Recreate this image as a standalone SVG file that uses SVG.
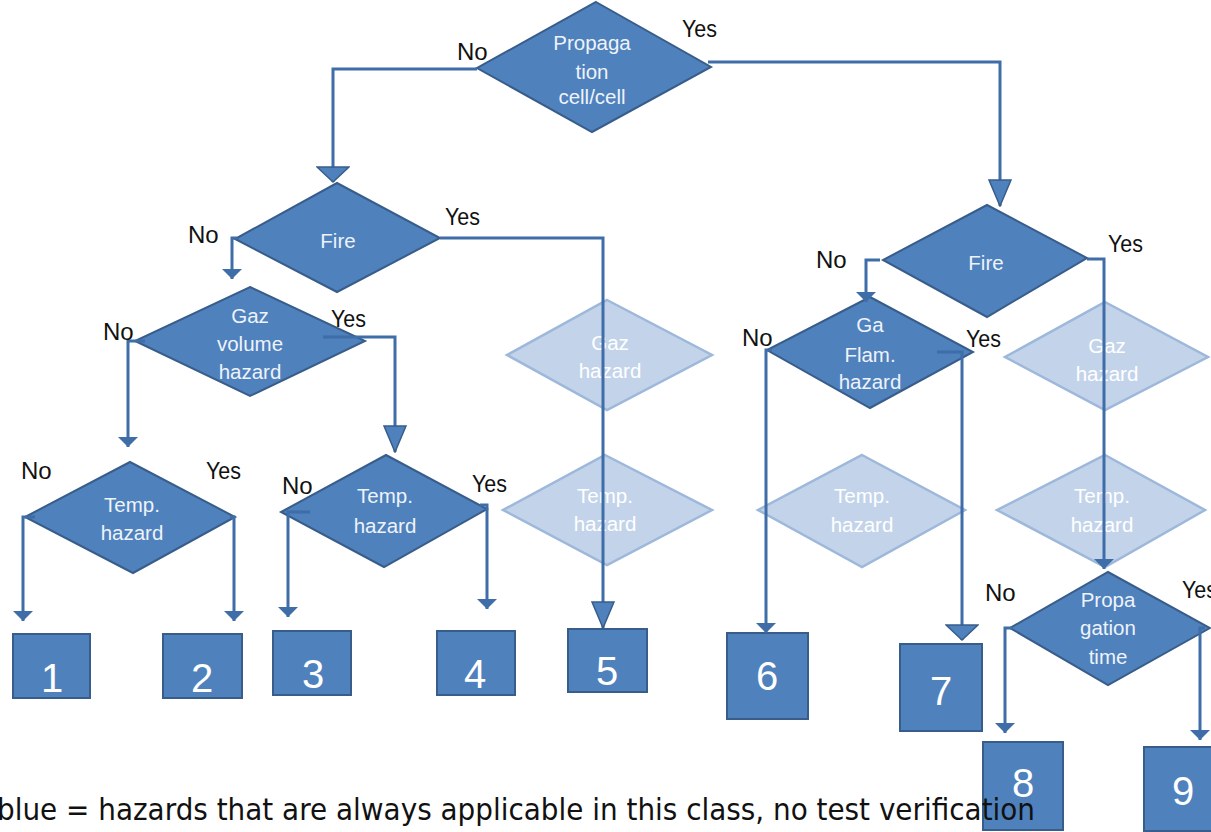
<svg xmlns="http://www.w3.org/2000/svg" width="1211" height="832" viewBox="0 0 1211 832">
<defs>
<style>
.d{fill:#4F81BD;stroke:#385D8A;stroke-width:2}
.f{fill:#C3D4EA;stroke:#9DB8DA;stroke-width:2.5}
.b{fill:#4F81BD;stroke:#385D8A;stroke-width:2}
.dt{font-family:"Liberation Sans",Arial,sans-serif;font-size:20.5px;fill:#EEF3FA;text-anchor:middle}
.ft{font-family:"Liberation Sans",Arial,sans-serif;font-size:20.5px;fill:#FFFFFF;text-anchor:middle}
.n{font-family:"Liberation Sans",Arial,sans-serif;font-size:40px;fill:#FFFFFF;text-anchor:middle}
.l{font-family:"Liberation Sans",Arial,sans-serif;font-size:24px;fill:#111111}
.c{fill:none;stroke:#3F6DA8;stroke-width:3}
</style>
<marker id="big" viewBox="0 0 28 26" refX="27" refY="13" markerWidth="28" markerHeight="26" markerUnits="userSpaceOnUse" orient="auto"><path d="M1,2 L27,13 L1,24 Z" fill="#4F81BD" stroke="#385D8A" stroke-width="1.5"/></marker>
<marker id="wide" viewBox="0 0 17 34" refX="16" refY="17" markerWidth="17" markerHeight="34" markerUnits="userSpaceOnUse" orient="auto"><path d="M1,1 L16,17 L1,33 Z" fill="#4F81BD" stroke="#385D8A" stroke-width="1.5"/></marker>
<marker id="small" viewBox="0 0 10 22" refX="10" refY="11" markerWidth="10" markerHeight="22" markerUnits="userSpaceOnUse" orient="auto"><path d="M0,1 L10,11 L0,21 Z" fill="#3F6DA8"/></marker>
</defs>
<rect width="1211" height="832" fill="#FFFFFF"/>

<g id="f1"><polygon class="f" points="607,300 712,355 607,410 507,355"/><text class="ft" x="610" y="350">Gaz</text><text class="ft" x="610" y="378">hazard</text></g>
<g id="f2"><polygon class="f" points="605,455 712,510 607,565 503,510"/><text class="ft" x="605" y="503">Temp.</text><text class="ft" x="605" y="531">hazard</text></g>
<g id="f3"><polygon class="f" points="862,455 965,510 862,567 758,510"/><text class="ft" x="862" y="503">Temp.</text><text class="ft" x="862" y="532">hazard</text></g>
<g id="f4"><polygon class="f" points="1105,302 1208,357 1105,410 1005,357"/><text class="ft" x="1107" y="353">Gaz</text><text class="ft" x="1107" y="381">hazard</text></g>
<g id="f5"><polygon class="f" points="1105,455 1205,510 1105,567 997,510"/><text class="ft" x="1102" y="503">Temp.</text><text class="ft" x="1102" y="532">hazard</text></g>

<g id="d0"><polygon class="d" points="596,2 711,67 592,132 477,68"/><text class="dt" x="592" y="50">Propaga</text><text class="dt" x="592" y="79">tion</text><text class="dt" x="592" y="104">cell/cell</text></g>
<g id="d1"><polygon class="d" points="337,183 440,238 337,292 235,239"/><text class="dt" x="338" y="248">Fire</text></g>
<g id="d2"><polygon class="d" points="250,287 365,341 250,396 135,341"/><text class="dt" x="250" y="323">Gaz</text><text class="dt" x="250" y="351">volume</text><text class="dt" x="250" y="379">hazard</text></g>
<g id="d3"><polygon class="d" points="130,462 235,517 133,573 25,517"/><text class="dt" x="132" y="512">Temp.</text><text class="dt" x="132" y="540">hazard</text></g>
<g id="d4"><polygon class="d" points="386,455 487,509 384,567 281,512"/><text class="dt" x="385" y="503">Temp.</text><text class="dt" x="385" y="533">hazard</text></g>
<g id="d5"><polygon class="d" points="987,205 1087,258 987,317 883,260"/><text class="dt" x="986" y="270">Fire</text></g>
<g id="d6"><polygon class="d" points="870,297 973,352 870,408 767,350"/><text class="dt" x="870" y="332">Ga</text><text class="dt" x="870" y="362">Flam.</text><text class="dt" x="870" y="389">hazard</text></g>
<g id="d7"><polygon class="d" points="1108,572 1210,628 1108,685 1010,628"/><text class="dt" x="1108" y="607">Propa</text><text class="dt" x="1108" y="635">gation</text><text class="dt" x="1108" y="664">time</text></g>

<g id="b1"><rect class="b" x="13" y="634" width="77" height="64"/><text class="n" x="52" y="692">1</text></g>
<g id="b2"><rect class="b" x="163" y="634" width="79" height="64"/><text class="n" x="202" y="692">2</text></g>
<g id="b3"><rect class="b" x="273" y="631" width="78" height="64"/><text class="n" x="313" y="688">3</text></g>
<g id="b4"><rect class="b" x="437" y="631" width="78" height="64"/><text class="n" x="475" y="688">4</text></g>
<g id="b5"><rect class="b" x="568" y="629" width="79" height="63"/><text class="n" x="607" y="685">5</text></g>
<g id="b6"><rect class="b" x="727" y="633" width="81" height="86"/><text class="n" x="767" y="690">6</text></g>
<g id="b7"><rect class="b" x="900" y="644" width="82" height="87"/><text class="n" x="941" y="705">7</text></g>
<g id="b8"><rect class="b" x="983" y="742" width="80" height="88"/><text class="n" x="1023" y="797">8</text></g>
<g id="b9"><rect class="b" x="1144" y="747" width="80" height="84"/><text class="n" x="1183" y="805">9</text></g>

<g id="connectors">
<path class="c" d="M477,69 H333 V182" marker-end="url(#wide)"/>
<path class="c" d="M708,62 H1000 V206" marker-end="url(#big)"/>
<path class="c" d="M237,238 H232 V279" marker-end="url(#small)"/>
<path class="c" d="M440,238 H603 V628" marker-end="url(#big)"/>
<path class="c" d="M145,341 H128 V447" marker-end="url(#small)"/>
<path class="c" d="M323,337 H395 V452" marker-end="url(#big)"/>
<path class="c" d="M35,517 H23 V621" marker-end="url(#small)"/>
<path class="c" d="M230,517 H234 V621" marker-end="url(#small)"/>
<path class="c" d="M310,512 H288 V617" marker-end="url(#small)"/>
<path class="c" d="M480,505 H487 V609" marker-end="url(#small)"/>
<path class="c" d="M880,260 H866 V302" marker-end="url(#small)"/>
<path class="c" d="M1087,259 H1104 V569" marker-end="url(#small)"/>
<path class="c" d="M772,350 H766 V633" marker-end="url(#small)"/>
<path class="c" d="M937,352 H962 V640" marker-end="url(#wide)"/>
<path class="c" d="M1012,628 H1005 V733" marker-end="url(#small)"/>
<path class="c" d="M1205,628 H1200 V740" marker-end="url(#small)"/>
</g>

<g id="labels">
<text class="l" x="457" y="60">No</text>
<text class="l" x="682" y="37" textLength="35" lengthAdjust="spacingAndGlyphs">Yes</text>
<text class="l" x="188" y="243">No</text>
<text class="l" x="445" y="225" textLength="35" lengthAdjust="spacingAndGlyphs">Yes</text>
<text class="l" x="103" y="340">No</text>
<text class="l" x="331" y="327" textLength="35" lengthAdjust="spacingAndGlyphs">Yes</text>
<text class="l" x="21" y="479">No</text>
<text class="l" x="206" y="479" textLength="35" lengthAdjust="spacingAndGlyphs">Yes</text>
<text class="l" x="282" y="494">No</text>
<text class="l" x="472" y="492" textLength="35" lengthAdjust="spacingAndGlyphs">Yes</text>
<text class="l" x="816" y="268">No</text>
<text class="l" x="1108" y="252" textLength="35" lengthAdjust="spacingAndGlyphs">Yes</text>
<text class="l" x="742" y="346">No</text>
<text class="l" x="966" y="347" textLength="35" lengthAdjust="spacingAndGlyphs">Yes</text>
<text class="l" x="985" y="601">No</text>
<text class="l" x="1182" y="598" textLength="35" lengthAdjust="spacingAndGlyphs">Yes</text>
</g>

<text x="-3" y="820" font-family="'DejaVu Sans',Verdana,sans-serif" font-size="31" fill="#111111" textLength="1038" lengthAdjust="spacingAndGlyphs">blue = hazards that are always applicable in this class, no test verification</text>
</svg>
